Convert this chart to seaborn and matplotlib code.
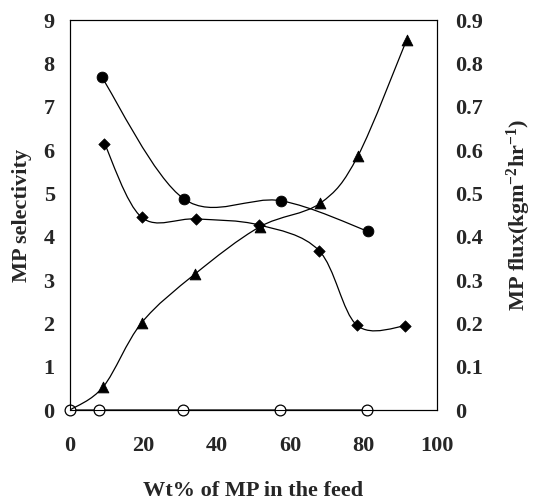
import numpy as np
import pandas as pd
import seaborn as sns
import matplotlib
matplotlib.use("Agg")
import matplotlib.pyplot as plt
from matplotlib.path import Path
from matplotlib.patches import PathPatch

# ---- data ----
circ_x = [8.6, 31.1, 57.5, 81.4]
circ_sel = [7.69, 4.87, 4.83, 4.12]

diam_x = [9.4, 19.5, 34.4, 51.6, 67.9, 78.2, 91.5]
diam_sel = [6.15, 4.45, 4.41, 4.27, 3.68, 1.96, 1.94]

open_x = [0, 8.0, 30.7, 57.3, 81.1]
open_sel = [0, 0, 0, 0, 0]

tri_x = [0, 9.1, 19.5, 34.1, 51.8, 68.2, 78.5, 91.8]
tri_flux = [0, 0.054, 0.201, 0.314, 0.423, 0.477, 0.586, 0.854]

x_ticks = [0, 20, 40, 60, 80, 100]
left_ticks = [0, 1, 2, 3, 4, 5, 6, 7, 8, 9]
right_ticks = [0, 0.1, 0.2, 0.3, 0.4, 0.5, 0.6, 0.7, 0.8, 0.9]
right_tick_labels = ["0", "0.1", "0.2", "0.3", "0.4", "0.5", "0.6", "0.7", "0.8", "0.9"]

sns.set_style("white")
plt.rcParams['font.family'] = ['Liberation Serif', 'DejaVu Serif']
plt.rcParams['font.weight'] = 'bold'
plt.rcParams['mathtext.fontset'] = 'custom'
plt.rcParams['mathtext.rm'] = 'Liberation Serif:bold'
plt.rcParams['mathtext.bf'] = 'Liberation Serif:bold'
plt.rcParams['mathtext.it'] = 'Liberation Serif:bold'

FS = 16


def smooth_path(xs, ys, t=1/6):
    """Excel-style smoothed line rendered as cubic Bezier segments."""
    P = np.column_stack([xs, ys]).astype(float)
    n = len(P)
    verts = [P[0]]
    codes = [Path.MOVETO]
    for i in range(n - 1):
        p_prev = P[i - 1] if i > 0 else P[i]
        p_next2 = P[i + 2] if i + 2 < n else P[i + 1]
        c1 = P[i] + (P[i + 1] - p_prev) * t
        c2 = P[i + 1] - (p_next2 - P[i]) * t
        verts += [c1, c2, P[i + 1]]
        codes += [Path.CURVE4] * 3
    return Path(verts, codes)


fig = plt.figure(figsize=(5.34, 5.01), dpi=100)
ax = fig.add_axes([0.1311, 0.1816, 0.6866, 0.7784])
ax2 = ax.twinx()

# curves
for xs, ys, a in [(circ_x, circ_sel, ax), (diam_x, diam_sel, ax), (open_x, open_sel, ax),
                  (tri_x, tri_flux, ax2)]:
    a.add_patch(PathPatch(smooth_path(xs, ys), facecolor='none', edgecolor='black', lw=0.9, zorder=2))

df_c = pd.DataFrame({"x": circ_x, "y": circ_sel})
df_d = pd.DataFrame({"x": diam_x, "y": diam_sel})
df_o = pd.DataFrame({"x": open_x, "y": open_sel})
df_t = pd.DataFrame({"x": tri_x[1:], "y": tri_flux[1:]})

sns.scatterplot(data=df_c, x="x", y="y", ax=ax, marker='o', s=60, color='black', edgecolor='black', zorder=3, clip_on=False)
sns.scatterplot(data=df_d, x="x", y="y", ax=ax, marker='D', s=34, color='black', edgecolor='black', zorder=3, clip_on=False)
sns.scatterplot(data=df_o, x="x", y="y", ax=ax, marker='o', s=60, color='white', edgecolor='black', linewidth=0.9, zorder=4, clip_on=False)
sns.scatterplot(data=df_t, x="x", y="y", ax=ax2, marker='^', s=60, color='black', edgecolor='black', zorder=3, clip_on=False)

ax.set_xlim(0, 100)
ax.set_ylim(0, 9)
ax2.set_ylim(0, 0.9)

ax.set_xticks(x_ticks)
ax.set_xticklabels([str(v) for v in x_ticks], fontsize=FS, fontweight='bold')
ax.set_yticks(left_ticks)
ax.set_yticklabels([str(v) for v in left_ticks], fontsize=FS, fontweight='bold')
ax2.set_yticks(right_ticks)
ax2.set_yticklabels(right_tick_labels, fontsize=FS, fontweight='bold')

ax.tick_params(axis='x', length=0, pad=19)
ax.tick_params(axis='y', length=0, pad=11)
ax2.tick_params(axis='y', length=0, pad=13)

for a in (ax, ax2):
    for s in a.spines.values():
        s.set_color('black')
        s.set_linewidth(0.8)

ax.set_xlabel("Wt% of MP in the feed", fontsize=FS, fontweight='bold', labelpad=18)
ax.set_ylabel("MP selectivity", fontsize=FS, fontweight='bold', labelpad=8)
ax2.set_ylabel(r"MP flux(kgm$^{-2}$hr$^{-1}$)", fontsize=FS, fontweight='bold', labelpad=16)

fig.savefig("out.png", dpi=100, facecolor='white')
